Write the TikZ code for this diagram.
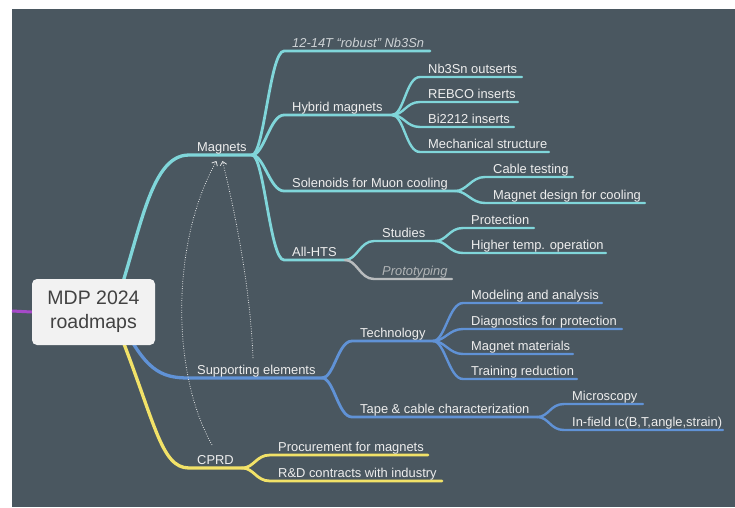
\documentclass[tikz,border=0pt]{standalone}
\usepackage{fontspec}
\setmainfont{Liberation Sans}
\usetikzlibrary{arrows.meta,calc}
\definecolor{bgc}{RGB}{74,87,96}
\definecolor{cy}{RGB}{128,214,218}
\definecolor{bl}{RGB}{96,146,214}
\definecolor{ye}{RGB}{242,226,104}
\definecolor{gr}{RGB}{185,188,190}
\definecolor{pu}{RGB}{166,74,201}
\definecolor{txt}{RGB}{238,238,238}
\definecolor{itx}{RGB}{205,210,213}
\definecolor{ptx}{RGB}{176,180,182}
\definecolor{boxc}{RGB}{242,242,242}
\definecolor{boxt}{RGB}{66,66,66}
\pgfdeclarelayer{back}
\pgfdeclarelayer{lines}
\pgfsetlayers{back,lines,main}
\newcommand\mmtopic[6]{%
  \coordinate (#1-s) at (#2,#4);
  \coordinate (#1-e) at (#3,#4);
  \node[lab,#6] (#1) at (#2+8,#4-4) {#5};
}
\newcommand\mmlink[3]{%
  \draw[#3] (#1-e) .. controls +(12,0) and +(-14,0) .. (#2-s) -- (#2-e);
}
\begin{document}
\begin{tikzpicture}[x=1pt,y=-1pt,
  lab/.style={anchor=base west, inner sep=0pt, text=txt, font=\fontsize{12.9}{15}\selectfont},
  itlab/.style={text=itx, font=\fontsize{12.9}{15}\selectfont\itshape},
  prlab/.style={text=ptx, font=\fontsize{12.9}{15}\selectfont\itshape},
  root/.style={rounded corners=5pt, fill=boxc, text=boxt, align=center,
    minimum width=123pt, minimum height=66pt, inner sep=0pt,
    font=\fontsize{19.5}{24}\selectfont},
  br1/.style={line width=3.3pt, line cap=round},
  br2/.style={line width=2.8pt, line cap=round},
  br3/.style={line width=2.4pt, line cap=round},
  dep/.style={draw=white!85!bgc, line width=0.8pt, dash pattern=on 0.8pt off 1.6pt,
    -{Straight Barb[length=3.5pt,width=6.5pt,line width=0.8pt]}}
]
\useasboundingbox (0,0) rectangle (735,507);
\begin{pgfonlayer}{back}
  \fill[white] (0,0) rectangle (735,507);
  \fill[bgc] (12,9) rectangle (735,507);
\end{pgfonlayer}

\node[root] (root) at (93.5,312) {MDP 2024\\roadmaps};
\coordinate (pl) at (12,311);

% level 1
\mmtopic{mag}{189}{252}{155}{Magnets}{}
\mmtopic{sup}{189}{322}{378}{Supporting elements}{}
\mmtopic{cprd}{189}{242}{468}{CPRD}{}
% magnets children
\mmtopic{rob}{284}{430}{51}{12-14T “robust” Nb3Sn}{itlab}
\mmtopic{hyb}{284}{392}{115}{Hybrid magnets}{}
\mmtopic{sol}{284}{455}{191}{Solenoids for Muon cooling}{}
\mmtopic{hts}{284}{345}{260}{All-HTS}{}
% hybrid
\mmtopic{nbo}{420}{522}{77}{Nb3Sn outserts}{}
\mmtopic{reb}{420}{518}{102}{REBCO inserts}{}
\mmtopic{bi}{420}{514}{127}{Bi2212 inserts}{}
\mmtopic{mech}{420}{549}{152}{Mechanical structure}{}
% solenoids
\mmtopic{cab}{485}{573}{177}{Cable testing}{}
\mmtopic{mdc}{485}{645}{203}{Magnet design for cooling}{}
% all-hts
\mmtopic{stu}{374}{435}{241}{Studies}{}
\mmtopic{pro}{374}{452}{279}{Prototyping}{prlab}
\mmtopic{prot}{463}{534}{228}{Protection}{}
\mmtopic{hto}{463}{606}{253}{Higher temp. operation}{}
% supporting
\mmtopic{tech}{352}{433}{341}{Technology}{}
\mmtopic{tape}{352}{537}{417}{Tape \& cable characterization}{}
\mmtopic{mod}{463}{602}{303}{Modeling and analysis}{}
\mmtopic{diag}{463}{622}{329}{Diagnostics for protection}{}
\mmtopic{mat}{463}{573}{354}{Magnet materials}{}
\mmtopic{trn}{463}{577}{379}{Training reduction}{}
\mmtopic{mic}{564}{643}{404}{Microscopy}{}
\mmtopic{inf}{564}{723}{430}{In-field Ic(B,T,angle,strain)}{}
% cprd
\mmtopic{proc}{270}{428}{455}{Procurement for magnets}{}
\mmtopic{rd}{270}{442}{481}{R\&D contracts with industry}{}

\coordinate (a1s) at (253,358);
\coordinate (a1e) at (222.5,161);
\coordinate (a2s) at (212,445);
\coordinate (a2e) at (216.5,161);

\begin{pgfonlayer}{lines}
  \draw[pu, line width=3pt] (pl) -- (root.west);
  \draw[cy, br1] ($(root.center)+(16.5,9)$) .. controls (140,240) and (148,155) .. (mag-s) -- (mag-e);
  \draw[bl, br1] ($(root.center)+(26.5,7)$) .. controls (145,370) and (160,378) .. (sup-s) -- (sup-e);
  \draw[ye, br1] ($(root.center)+(21.5,9)$) .. controls (155,420) and (160,468) .. (cprd-s) -- (cprd-e);

  \mmlink{mag}{rob}{cy,br2}
  \mmlink{mag}{hyb}{cy,br2}
  \mmlink{mag}{sol}{cy,br2}
  \mmlink{mag}{hts}{cy,br2}
  \mmlink{hyb}{nbo}{cy,br3}
  \mmlink{hyb}{reb}{cy,br3}
  \mmlink{hyb}{bi}{cy,br3}
  \mmlink{hyb}{mech}{cy,br3}
  \mmlink{sol}{cab}{cy,br3}
  \mmlink{sol}{mdc}{cy,br3}
  \mmlink{hts}{stu}{cy,br3}
  \mmlink{hts}{pro}{gr,br3}
  \mmlink{stu}{prot}{cy,br3}
  \mmlink{stu}{hto}{cy,br3}

  \mmlink{sup}{tech}{bl,br2}
  \mmlink{sup}{tape}{bl,br2}
  \mmlink{tech}{mod}{bl,br3}
  \mmlink{tech}{diag}{bl,br3}
  \mmlink{tech}{mat}{bl,br3}
  \mmlink{tech}{trn}{bl,br3}
  \mmlink{tape}{mic}{bl,br3}
  \mmlink{tape}{inf}{bl,br3}

  \mmlink{cprd}{proc}{ye,br2}
  \mmlink{cprd}{rd}{ye,br2}

  \draw[dep] (a1s) .. controls (250,280) and (232,200) .. (a1e);
  \draw[dep] (a2s) .. controls (170,370) and (172,240) .. (a2e);
\end{pgfonlayer}
\end{tikzpicture}
\end{document}
